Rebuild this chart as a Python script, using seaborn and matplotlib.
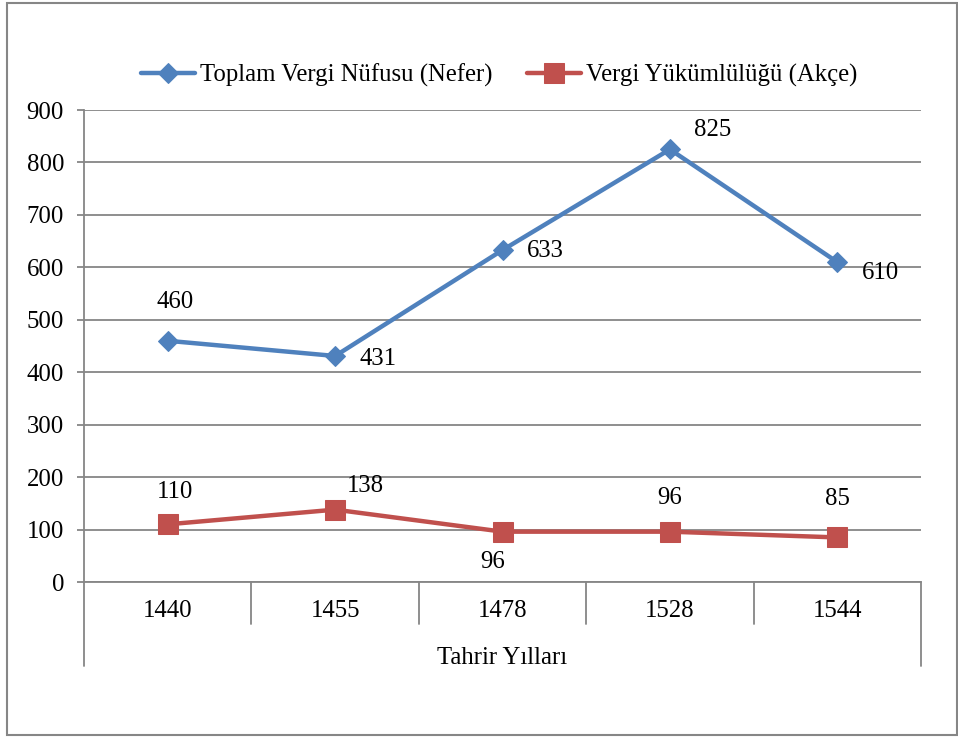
import matplotlib
matplotlib.use('Agg')
import matplotlib.pyplot as plt
import matplotlib.patches as patches
import matplotlib.transforms as mtransforms
import seaborn as sns
import numpy as np
import pandas as pd

years = ['1440', '1455', '1478', '1528', '1544']
nufus = [460, 431, 633, 825, 610]
vergi = [110, 138, 96, 96, 85]
nufus_name = 'Toplam Vergi Nüfusu (Nefer)'
vergi_name = 'Vergi Yükümlülüğü (Akçe)'
x_title = 'Tahrir Yılları'
y_ticks = list(range(0, 1000, 100))

# label offsets (points) in the Excel layout
nufus_off = [(5, 28), (31, -2), (31, -1), (31, 14), (31, -8)]
vergi_off = [(5, 23), (22, 17), (-7, -22), (0, 24), (0, 28)]

blue = '#4F81BD'
red = '#C0504D'
grey = '#868686'

sns.set_style('white')
plt.rcParams['font.family'] = ['Liberation Serif', 'DejaVu Serif']
plt.rcParams['text.color'] = 'black'
plt.rcParams['xtick.color'] = 'black'
plt.rcParams['ytick.color'] = 'black'
fs = 17.8

df = pd.DataFrame({'year': years, 'nufus': nufus, 'vergi': vergi})
df['pos'] = np.arange(len(years))

fig = plt.figure(figsize=(9.58, 7.37), dpi=100)
ax = fig.add_axes([0.0877, 0.2103, 0.8737, 0.6404])

sns.lineplot(data=df, x='pos', y='nufus', ax=ax, color=blue, lw=3.2,
             marker='D', markersize=10.5, markeredgecolor=blue, label=nufus_name)
sns.lineplot(data=df, x='pos', y='vergi', ax=ax, color=red, lw=3.2,
             marker='s', markersize=14.5, markeredgecolor=red, label=vergi_name)

for i, v in enumerate(nufus):
    ax.annotate(str(v), (i, v), xytext=nufus_off[i], textcoords='offset points',
                ha='center', va='center', fontsize=fs)
for i, v in enumerate(vergi):
    ax.annotate(str(v), (i, v), xytext=vergi_off[i], textcoords='offset points',
                ha='center', va='center', fontsize=fs)

ax.set_xlim(-0.5, len(years) - 0.5)
ax.set_ylim(0, 900)
ax.set_yticks(y_ticks)
ax.yaxis.grid(True, color=grey, lw=1.3)
ax.set_axisbelow(True)
ax.set_xticks(df['pos'])
ax.set_xticklabels(years)
ax.tick_params(axis='x', length=0, pad=13, labelsize=fs, labelcolor='black')
ax.tick_params(axis='y', length=5, width=1.3, color=grey, pad=9.4, labelsize=fs,
               labelcolor='black', left=True)
ax.set_xlabel('')
ax.set_ylabel('')
for s in ['top', 'right']:
    ax.spines[s].set_visible(False)
for s in ['left', 'bottom']:
    ax.spines[s].set_color(grey)
    ax.spines[s].set_linewidth(1.3)

# category separators
trans = mtransforms.blended_transform_factory(ax.transData, ax.transAxes)
seps = np.arange(len(years) + 1) - 0.5
for k, xs in enumerate(seps):
    low = -0.178 if k in (0, len(seps) - 1) else -0.089
    ax.plot([xs, xs], [0, low], transform=trans, color=grey, lw=1.3, clip_on=False)

ax.text(0.5, -0.16, x_title, transform=ax.transAxes, ha='center', va='center', fontsize=fs)

leg = ax.legend(loc='center', bbox_to_anchor=(0.521, 0.898), bbox_transform=fig.transFigure,
                ncol=2, frameon=False, fontsize=fs, handlelength=2.2, handletextpad=0.2,
                columnspacing=1.4)
for t in leg.get_texts():
    t.set_color('black')

fig.patches.append(patches.Rectangle((0.0073, 0.003), 0.9917, 0.993, transform=fig.transFigure,
                                     fill=False, edgecolor=grey, lw=1.5))

fig.savefig('out.png', dpi=100)
